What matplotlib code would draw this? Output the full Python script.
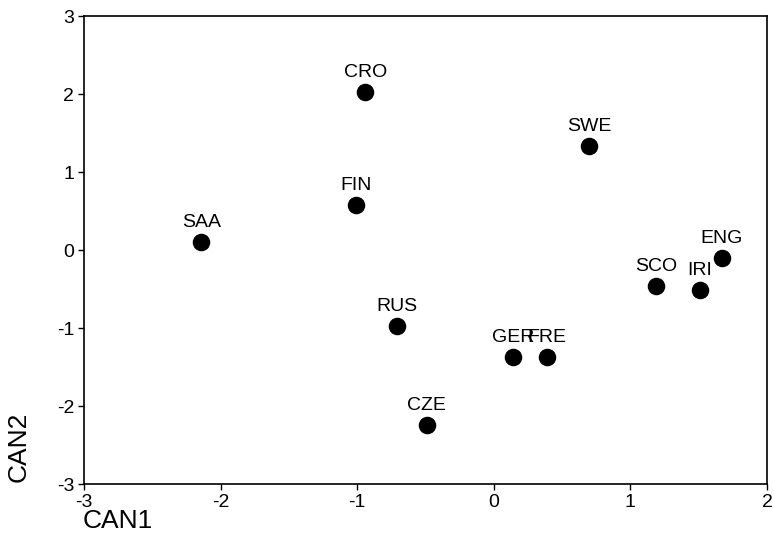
import matplotlib
matplotlib.use("Agg")
import matplotlib.pyplot as plt

plt.rcParams['font.family'] = ['Liberation Sans', 'DejaVu Sans']
plt.rcParams['axes.unicode_minus'] = False

countries = ["CRO", "SWE", "FIN", "SAA", "ENG", "SCO", "IRI", "RUS", "GER", "FRE", "CZE"]
can1 = [-0.94, 0.70, -1.01, -2.14, 1.67, 1.19, 1.51, -0.71, 0.14, 0.39, -0.49]
can2 = [2.03, 1.33, 0.58, 0.10, -0.10, -0.46, -0.51, -0.97, -1.37, -1.37, -2.24]
xticks = [-3, -2, -1, 0, 1, 2]
yticks = [-3, -2, -1, 0, 1, 2, 3]

fig = plt.figure(figsize=(7.73, 5.39), dpi=100)
ax = fig.add_axes([0.1087, 0.102, 0.8835, 0.8683])
ax.scatter(can1, can2, s=135, color='black', zorder=3)
for name, x, y in zip(countries, can1, can2):
    ax.annotate(name, (x, y), xytext=(0, 8), textcoords='offset points',
                ha='center', va='bottom', fontsize=14)
ax.set_xlim(-3, 2)
ax.set_ylim(-3, 3)
ax.set_xticks(xticks)
ax.set_yticks(yticks)
ax.tick_params(direction='out', length=4, width=1, labelsize=14, pad=3)
for s in ax.spines.values():
    s.set_linewidth(1.2)
fig.text(0.107, 0.012, "CAN1", fontsize=19, ha='left', va='bottom')
fig.text(0.008, 0.106, "CAN2", fontsize=19, rotation=90, ha='left', va='bottom')
fig.savefig("out.png", dpi=100)
